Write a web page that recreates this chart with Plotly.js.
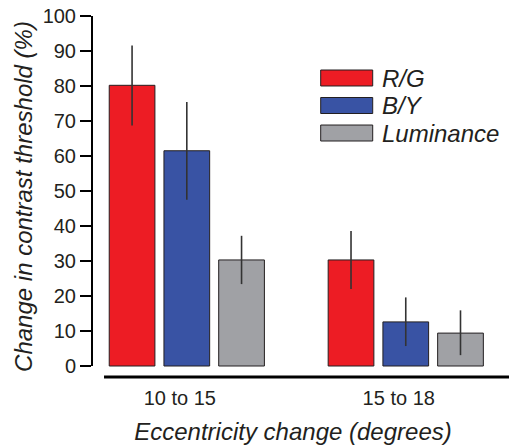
<!DOCTYPE html>
<html>
<head>
<meta charset="utf-8">
<script src="https://cdn.plot.ly/plotly-3.0.1.min.js"></script>
<style>
  html, body { margin: 0; padding: 0; background: #fff; }
  #chart { width: 509px; height: 447px; }
</style>
</head>
<body>
<div id="chart"></div>
<script>
// ---- data ----
var categories = ["10 to 15", "15 to 18"];
var seriesNames = ["R/G", "B/Y", "Luminance"];
var seriesColors = ["#ED1C24", "#3953A4", "#A0A1A5"];

var rgValues  = [80.2, 30.3];
var rgHigh    = [91.6, 38.6];
var rgLow     = [68.7, 22.0];

var byValues  = [61.5, 12.6];
var byHigh    = [75.4, 19.6];
var byLow     = [47.5, 5.7];

var lumValues = [30.3, 9.4];
var lumHigh   = [37.2, 15.9];
var lumLow    = [23.4, 3.1];

var yTickValues = [0, 10, 20, 30, 40, 50, 60, 70, 80, 90, 100];

var xTitle = "Eccentricity change (degrees)";
var yTitle = "Change in contrast threshold (%)";

// ---- build traces ----
var FONT = "Liberation Sans, Arial, Helvetica, sans-serif";
var valueSets = [rgValues, byValues, lumValues];
var highSets = [rgHigh, byHigh, lumHigh];
var lowSets = [rgLow, byLow, lumLow];

function diff(a, b) { return a.map(function (v, i) { return v - b[i]; }); }

var traces = seriesNames.map(function (name, k) {
  return {
    type: "bar",
    name: name,
    x: categories,
    y: valueSets[k],
    marker: { color: seriesColors[k], line: { color: "#231F20", width: 1 } },
    error_y: {
      type: "data",
      symmetric: false,
      array: diff(highSets[k], valueSets[k]),
      arrayminus: diff(valueSets[k], lowSets[k]),
      color: "#333333",
      thickness: 1.6,
      width: 0
    },
    showlegend: false,
    hoverinfo: "x+y+name"
  };
});

// ---- legend drawn from the series arrays ----
var shapes = [];
var annotations = [];
var legX0 = 0.5689, legX1 = 0.6983, legTextX = 0.7164;
var legTop = 0.8504, legH = 0.0443, legStep = 0.0762;
seriesNames.forEach(function (name, k) {
  var top = legTop - k * legStep;
  shapes.push({
    type: "rect", xref: "paper", yref: "paper",
    x0: legX0, x1: legX1, y0: top - legH, y1: top,
    fillcolor: seriesColors[k],
    line: { color: "#231F20", width: 1 }
  });
  annotations.push({
    xref: "paper", yref: "paper",
    x: legTextX, y: top - legH / 2,
    xanchor: "left", yanchor: "middle",
    text: "<i>" + name + "</i>",
    showarrow: false,
    font: { family: FONT, size: 24, color: "#231F20" }
  });
});

// axis lines
shapes.push({
  type: "line", xref: "paper", yref: "y",
  x0: 0, x1: 0, y0: yTickValues[0], y1: yTickValues[yTickValues.length - 1],
  line: { color: "#000", width: 2 }
});
shapes.push({
  type: "line", xref: "paper", yref: "paper",
  x0: 0.0299, x1: 1.04, y0: 0, y1: 0,
  line: { color: "#000", width: 3 }
});

var layout = {
  width: 509,
  height: 447,
  margin: { l: 92, r: 15, t: 16, b: 70, pad: 0 },
  paper_bgcolor: "#fff",
  plot_bgcolor: "#fff",
  font: { family: FONT, color: "#231F20" },
  barmode: "group",
  bargap: 0.25,
  bargroupgap: 0.165,
  showlegend: false,
  xaxis: {
    type: "category",
    range: [-0.433, 1.403],
    showline: false,
    showgrid: false,
    zeroline: false,
    ticks: "",
    ticklabelshift: -7,
    ticklabelstandoff: 7,
    tickfont: { family: FONT, size: 20, color: "#231F20" },
    title: {
      text: "<i>" + xTitle + "</i>",
      font: { family: FONT, size: 24, color: "#231F20" },
      standoff: 15
    },
    automargin: false
  },
  yaxis: {
    range: [-3.143, 100],
    tickvals: yTickValues,
    ticktext: yTickValues.map(String),
    ticks: "outside",
    ticklen: 11,
    tickwidth: 2,
    tickcolor: "#000",
    showline: false,
    showgrid: false,
    zeroline: false,
    tickfont: { family: FONT, size: 20, color: "#231F20" },
    title: {
      text: "<i>" + yTitle + "</i>",
      font: { family: FONT, size: 24, color: "#231F20" },
      standoff: 3
    },
    automargin: false
  },
  shapes: shapes,
  annotations: annotations
};

Plotly.newPlot("chart", traces, layout, { displayModeBar: false, staticPlot: true });
</script>
</body>
</html>
